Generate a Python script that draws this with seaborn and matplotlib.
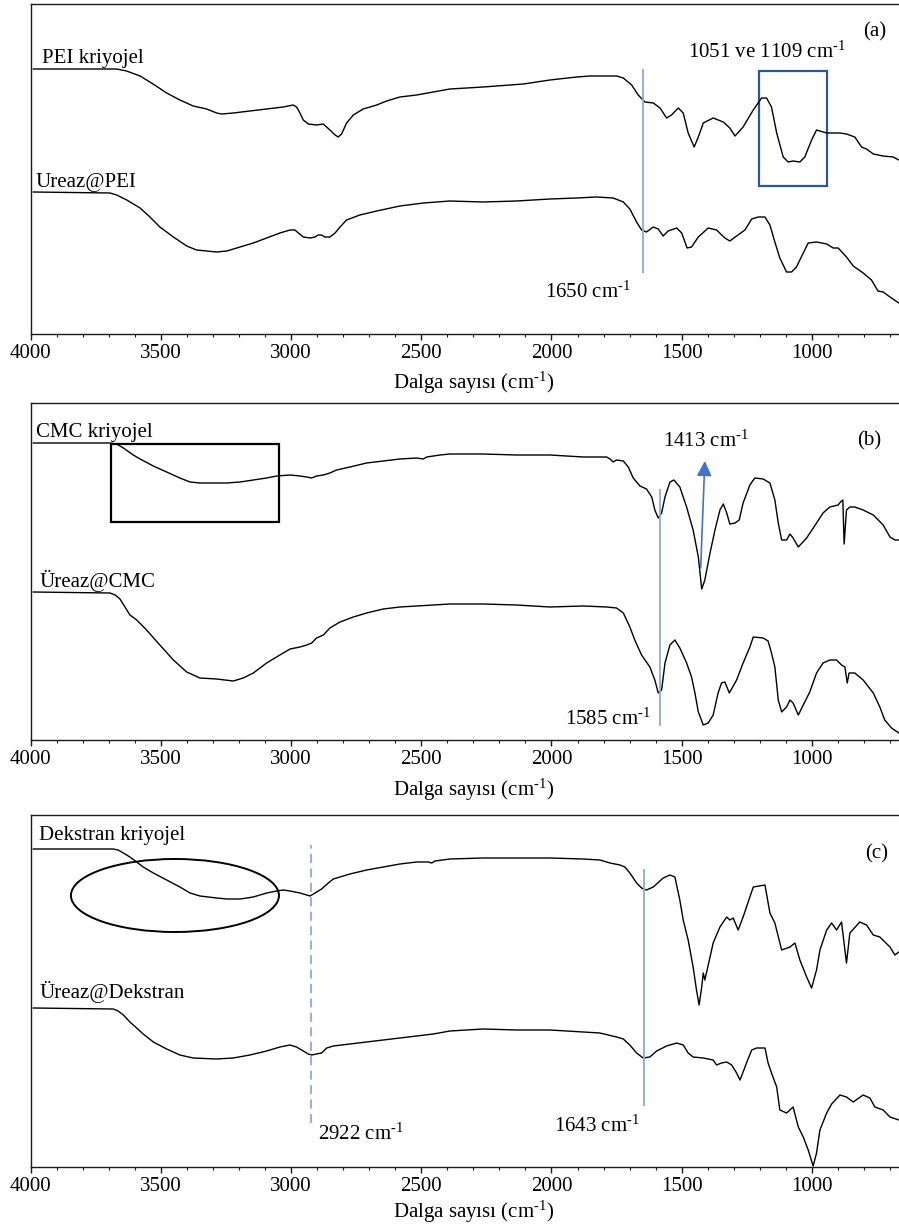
import matplotlib
matplotlib.use("Agg")
import pandas as pd
import matplotlib.pyplot as plt
from matplotlib.patches import Rectangle, Ellipse
from matplotlib.ticker import MultipleLocator, FormatStrFormatter
import seaborn as sns

# ---------------------------------------------------------------------------
# FTIR spectra (wavenumber in cm-1, transmittance in arbitrary offset units)
# ---------------------------------------------------------------------------
pei_wn = [3991, 3695, 3670, 3632, 3580, 3530, 3478, 3427, 3376, 3324, 3286, 3267,
          3222, 3158, 3094, 3030, 2992, 2979, 2966, 2953, 2934, 2902, 2876, 2851,
          2831, 2819, 2806, 2787, 2761, 2723, 2671, 2633, 2582, 2518, 2454, 2390,
          2262, 2108, 2006, 1903, 1852, 1750, 1724, 1692, 1667, 1641, 1609, 1583,
          1558, 1539, 1513, 1494, 1475, 1452, 1436, 1417, 1379, 1340, 1315, 1295,
          1264, 1225, 1193, 1174, 1155, 1135, 1110, 1091, 1072, 1046, 1027, 1001,
          982, 943, 892, 867, 835, 809, 790, 764, 726, 688, 666]
pei_t = [265, 265, 265, 263, 258, 250, 241, 234, 228, 225, 221, 220,
         221, 223, 225, 227, 229, 227, 221, 214, 210, 209, 210, 204,
         199, 197, 200, 211, 219, 225, 229, 233, 237, 239, 242, 245,
         247, 250, 254, 257, 258, 258, 256, 249, 239, 232, 231, 226,
         216, 219, 226, 221, 201, 187, 197, 211, 216, 212, 206, 198,
         207, 224, 236, 236, 227, 201, 177, 172, 173, 172, 177, 194,
         204, 201, 201, 200, 197, 187, 185, 180, 178, 177, 174]

ureaz_pei_wn = [3991, 3695, 3670, 3631, 3580, 3542, 3504, 3452, 3401, 3363, 3324,
                3286, 3247, 3196, 3145, 3094, 3043, 3004, 2985, 2972, 2953, 2927,
                2908, 2896, 2883, 2870, 2851, 2831, 2812, 2787, 2736, 2671, 2582,
                2492, 2390, 2262, 2134, 2006, 1903, 1827, 1763, 1724, 1699, 1673,
                1654, 1635, 1609, 1590, 1571, 1552, 1519, 1500, 1479, 1462, 1436,
                1398, 1366, 1334, 1315, 1289, 1257, 1231, 1206, 1180, 1161, 1142,
                1123, 1097, 1078, 1059, 1033, 1014, 982, 943, 918, 899, 867, 841,
                803, 771, 746, 726, 700, 666]
ureaz_pei_t = [142, 141, 139, 134, 126, 117, 107, 97, 88, 84, 83,
               82, 83, 87, 91, 96, 101, 104, 104, 101, 97, 96,
               97, 99, 99, 97, 97, 101, 107, 114, 119, 123, 128,
               131, 133, 132, 133, 135, 136, 137, 136, 132, 125, 112,
               104, 102, 107, 105, 98, 103, 106, 101, 86, 87, 97,
               106, 104, 96, 93, 98, 104, 115, 117, 117, 109, 92,
               76, 62, 62, 67, 81, 91, 92, 90, 86, 86, 77, 68,
               61, 54, 43, 42, 37, 31]

cmc_wn = [3991, 3695, 3670, 3644, 3606, 3580, 3529, 3478, 3427, 3388, 3350, 3247,
          3196, 3145, 3094, 3055, 3004, 2966, 2940, 2921, 2902, 2876, 2851, 2825,
          2774, 2710, 2646, 2582, 2518, 2492, 2479, 2428, 2390, 2262, 2134, 2006,
          1878, 1788, 1775, 1763, 1750, 1724, 1705, 1686, 1660, 1635, 1615, 1603,
          1590, 1577, 1564, 1545, 1530, 1507, 1481, 1456, 1436, 1423, 1411, 1391,
          1372, 1353, 1340, 1327, 1315, 1295, 1279, 1264, 1238, 1219, 1187, 1161,
          1142, 1129, 1116, 1097, 1084, 1072, 1052, 1020, 982, 957, 931, 899,
          890, 881, 876, 867, 854, 835, 803, 764, 726, 700, 681, 666]
cmc_t = [297, 297, 296, 292, 285, 281, 274, 268, 262, 258, 257, 257,
         258, 260, 262, 264, 265, 264, 263, 262, 264, 265, 267, 270,
         273, 277, 279, 281, 282, 281, 283, 285, 286, 286, 285, 285,
         283, 283, 281, 278, 280, 279, 273, 262, 254, 251, 243, 230,
         222, 227, 243, 258, 260, 253, 233, 210, 183, 151, 160, 187,
         210, 230, 236, 227, 216, 217, 220, 237, 255, 262, 261, 257,
         240, 217, 200, 200, 206, 202, 193, 202, 217, 227, 233, 235,
         238, 240, 196, 230, 233, 233, 230, 225, 215, 203, 200, 200]

ureaz_cmc_wn = [3991, 3695, 3676, 3657, 3638, 3619, 3593, 3555, 3504, 3452, 3401,
                3350, 3286, 3222, 3184, 3145, 3094, 3043, 3004, 2966, 2940, 2921,
                2902, 2876, 2851, 2812, 2761, 2710, 2646, 2582, 2518, 2454, 2390,
                2262, 2134, 2006, 1878, 1788, 1750, 1724, 1699, 1680, 1654, 1622,
                1603, 1590, 1577, 1564, 1545, 1526, 1507, 1481, 1462, 1449, 1436,
                1417, 1398, 1379, 1360, 1347, 1334, 1317, 1304, 1289, 1264, 1238,
                1225, 1187, 1168, 1155, 1142, 1129, 1116, 1097, 1084, 1072, 1052,
                1033, 1008, 982, 957, 931, 905, 886, 873, 864, 857, 835, 803, 764,
                739, 720, 694, 666]
ureaz_cmc_t = [148, 147, 145, 141, 133, 125, 120, 110, 95, 80, 68,
               62, 61, 59, 62, 67, 77, 85, 91, 93, 95, 97,
               102, 105, 112, 118, 123, 127, 131, 133, 134, 135, 136,
               136, 135, 133, 134, 133, 132, 127, 113, 100, 85, 73,
               60, 47, 50, 77, 95, 100, 92, 77, 63, 47, 28,
               15, 17, 25, 47, 57, 58, 47, 53, 60, 77, 93,
               103, 102, 99, 87, 73, 40, 28, 33, 40, 37, 25,
               35, 48, 67, 77, 80, 80, 75, 73, 57, 67, 67, 60, 47,
               33, 20, 12, 7]

dex_wn = [3991, 3683, 3664, 3644, 3619, 3593, 3568, 3529, 3478, 3427, 3388, 3350,
          3286, 3247, 3196, 3145, 3094, 3055, 3030, 3004, 2966, 2927, 2908, 2883,
          2857, 2838, 2774, 2710, 2646, 2582, 2518, 2473, 2460, 2447, 2390, 2262,
          2134, 2006, 1878, 1814, 1775, 1737, 1718, 1699, 1673, 1654, 1635, 1609,
          1571, 1545, 1526, 1507, 1494, 1475, 1456, 1443, 1433, 1423, 1417, 1411,
          1404, 1391, 1379, 1353, 1327, 1315, 1302, 1283, 1264, 1238, 1225, 1180,
          1161, 1142, 1116, 1084, 1065, 1046, 1020, 1001, 982, 969, 943, 924,
          905, 886, 867, 854, 816, 790, 764, 739, 700, 681, 666]
dex_t = [318, 318, 317, 314, 310, 305, 300, 294, 287, 280, 274, 271,
         269, 268, 268, 270, 274, 276, 277, 276, 274, 271, 274, 278,
         284, 288, 293, 297, 300, 303, 305, 305, 304, 306, 308, 309,
         309, 309, 308, 307, 304, 302, 300, 294, 284, 279, 277, 280,
         289, 292, 290, 267, 247, 227, 200, 177, 162, 180, 194, 187,
         195, 210, 224, 240, 250, 247, 249, 237, 250, 270, 280, 282,
         254, 244, 217, 220, 224, 207, 190, 179, 197, 217, 237, 244,
         237, 245, 204, 234, 245, 242, 232, 230, 220, 212, 215]

ureaz_dex_wn = [3991, 3683, 3664, 3644, 3619, 3593, 3568, 3529, 3478, 3427, 3376,
                3286, 3222, 3158, 3094, 3043, 3004, 2979, 2953, 2934, 2921, 2902,
                2883, 2863, 2838, 2774, 2710, 2582, 2454, 2390, 2262, 2134, 2006,
                1878, 1814, 1750, 1724, 1699, 1673, 1648, 1622, 1596, 1558, 1519,
                1494, 1475, 1456, 1417, 1379, 1366, 1347, 1327, 1308, 1289, 1276,
                1264, 1251, 1231, 1212, 1180, 1168, 1155, 1135, 1123, 1097, 1072,
                1052, 1033, 1014, 995, 982, 969, 943, 924, 892, 867, 841, 803, 777,
                758, 726, 700, 666]
ureaz_dex_t = [159, 158, 156, 152, 145, 139, 133, 125, 118, 112, 109,
               108, 109, 112, 116, 120, 122, 120, 116, 113, 112, 113,
               114, 119, 121, 123, 125, 129, 133, 136, 138, 137, 137,
               135, 134, 130, 128, 122, 114, 109, 110, 116, 121, 124,
               122, 114, 110, 109, 107, 102, 104, 105, 102, 94, 87,
               95, 104, 117, 119, 119, 104, 94, 80, 57, 54, 60,
               40, 30, 17, 1, 14, 37, 54, 63, 72, 70, 65, 72, 69,
               60, 57, 50, 47]

# Marked band positions (cm-1)
band_pei = 1650
band_cmc = 1585
band_cmc_arrow = 1413
band_dex_ch = 2922
band_dex = 1643

# ---------------------------------------------------------------------------
sns.set_style("ticks")
plt.rcParams.update({
    "font.family": ["Liberation Serif", "DejaVu Serif"],
    "mathtext.fontset": "custom",
    "mathtext.rm": "Liberation Serif",
    "mathtext.it": "Liberation Serif:italic",
    "mathtext.bf": "Liberation Serif:bold",
    "font.size": 15,
    "text.color": "black",
    "axes.labelcolor": "black",
    "axes.edgecolor": "#1a1a1a",
    "axes.linewidth": 1.0,
    "xtick.color": "#1a1a1a",
    "xtick.labelcolor": "black",
})

# superscript "-1" set with a short hyphen, as in the typeset labels
CM = "cm$^{\\mathrm{\u2010}1}$"
LINE_BLUE = "#8EAADB"
BOX_BLUE = "#2F5597"
ARROW_BLUE = "#4472C4"

fig = plt.figure(figsize=(8.99, 12.29), dpi=100)
W, H = 899.0, 1229.0
x_left = 30.7
x_right = 916.0


def make_axes(top_px, bottom_px):
    return fig.add_axes([x_left / W, 1 - bottom_px / H,
                         (x_right - x_left) / W, (bottom_px - top_px) / H])


def style_axes(ax, ymax, labelpad):
    ax.set_xlim(4000, 600)
    ax.set_ylim(0, ymax)
    ax.xaxis.set_major_locator(MultipleLocator(500))
    ax.xaxis.set_minor_locator(MultipleLocator(100))
    ax.xaxis.set_major_formatter(FormatStrFormatter("%d"))
    ax.tick_params(axis="x", which="major", direction="out", length=4, width=1.0,
                   pad=3, labelsize=15)
    ax.tick_params(axis="x", which="minor", direction="out", length=2.5, width=0.8)
    ax.set_yticks([])
    ax.set_ylabel("")
    ax.set_xlabel("Dalga sayısı (" + CM + ")", fontsize=15, labelpad=labelpad)
    ax.spines["right"].set_visible(False)
    ax.spines["top"].set_visible(True)
    ax.spines["left"].set_visible(True)
    ax.set_facecolor("none")


def draw_spectrum(ax, wn, t):
    df = pd.DataFrame({"wn": wn, "t": t})
    sns.lineplot(data=df, x="wn", y="t", ax=ax, sort=False, estimator=None,
                 color="black", linewidth=1.0, legend=False,
                 solid_joinstyle="round", solid_capstyle="round")


# ----------------------------- panel (a) -----------------------------------
ax_a = make_axes(4.3, 334.0)
draw_spectrum(ax_a, pei_wn, pei_t)
draw_spectrum(ax_a, ureaz_pei_wn, ureaz_pei_t)
style_axes(ax_a, 329.7, 5)
ax_a.vlines(band_pei, 61, 265, color=LINE_BLUE, linewidth=1.3)
ax_a.add_patch(Rectangle((1203, 148), 942 - 1203, 263 - 148, fill=False,
                         edgecolor=BOX_BLUE, linewidth=1.6))
ax_a.text(3956, 271, "PEI kriyojel", ha="left", va="baseline")
ax_a.text(3980, 147, "Ureaz@PEI", ha="left", va="baseline")
ax_a.text(1475, 276, "1051 ve 1109 " + CM, ha="left", va="baseline")
ax_a.text(804, 298, "(a)", ha="left", va="baseline")
ax_a.text(2025, 36, f"{band_pei} " + CM, ha="left", va="baseline")

# ----------------------------- panel (b) -----------------------------------
ax_b = make_axes(403.0, 740.0)
draw_spectrum(ax_b, cmc_wn, cmc_t)
draw_spectrum(ax_b, ureaz_cmc_wn, ureaz_cmc_t)
style_axes(ax_b, 337.0, 6)
ax_b.vlines(band_cmc, 14, 251, color=LINE_BLUE, linewidth=1.3)
ax_b.add_patch(Rectangle((3692, 218), 3047 - 3692, 296 - 218, fill=False,
                         edgecolor="black", linewidth=1.6))
ax_b.annotate("", xy=(band_cmc_arrow - 2, 279), xytext=(band_cmc_arrow + 14, 172),
              arrowprops=dict(arrowstyle="-|>,head_length=0.6,head_width=0.3",
                              color=ARROW_BLUE, linewidth=1.2, shrinkA=0, shrinkB=0))
ax_b.text(3980, 303, "CMC kriyojel", ha="left", va="baseline")
ax_b.text(3968, 153, "Üreaz@CMC", ha="left", va="baseline")
ax_b.text(1573, 293, f"{band_cmc_arrow} " + CM, ha="left", va="baseline")
ax_b.text(827, 295, "(b)", ha="left", va="baseline")
ax_b.text(1948, 15, f"{band_cmc} " + CM, ha="left", va="baseline")

# ----------------------------- panel (c) -----------------------------------
ax_c = make_axes(815.0, 1167.0)
draw_spectrum(ax_c, dex_wn, dex_t)
draw_spectrum(ax_c, ureaz_dex_wn, ureaz_dex_t)
style_axes(ax_c, 352.0, 2)
ax_c.vlines(band_dex_ch, 44, 322, color=LINE_BLUE, linewidth=1.3,
            linestyles=(0, (5, 3)))
ax_c.vlines(band_dex, 61, 298, color=LINE_BLUE, linewidth=1.3)
ax_c.add_patch(Ellipse((3446, 271.5), 799, 73, fill=False,
                       edgecolor="black", linewidth=1.4))
ax_c.text(3968, 327, "Dekstran kriyojel", ha="left", va="baseline")
ax_c.text(3968, 169, "Üreaz@Dekstran", ha="left", va="baseline")
ax_c.text(2896, 27, f"{band_dex_ch} " + CM, ha="left", va="baseline")
ax_c.text(1990, 35, f"{band_dex} " + CM, ha="left", va="baseline")
ax_c.text(796, 309, "(c)", ha="left", va="baseline")

fig.savefig("out.png", dpi=100, facecolor="white")
